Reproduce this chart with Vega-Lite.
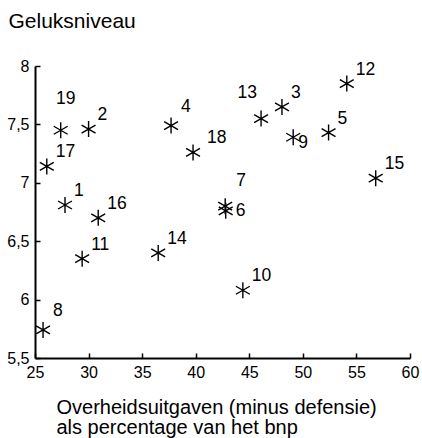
{
  "$schema": "https://vega.github.io/schema/vega-lite/v6.json",
  "width": 375,
  "height": 292,
  "autosize": {"type": "none"},
  "padding": {"left": 35, "top": 66, "right": 12, "bottom": 80},
  "config": {"view": {"stroke": null}, "font": "Liberation Sans", "background": "white"},
  "data": {"values": [
    {"land": "1", "uitgaven": 27.8, "geluk": 6.81},
    {"land": "2", "uitgaven": 30.0, "geluk": 7.46},
    {"land": "3", "uitgaven": 48.05, "geluk": 7.65},
    {"land": "4", "uitgaven": 37.7, "geluk": 7.49},
    {"land": "5", "uitgaven": 52.4, "geluk": 7.43},
    {"land": "6", "uitgaven": 42.8, "geluk": 6.76},
    {"land": "7", "uitgaven": 42.75, "geluk": 6.80},
    {"land": "8", "uitgaven": 25.75, "geluk": 5.74},
    {"land": "9", "uitgaven": 49.1, "geluk": 7.39},
    {"land": "10", "uitgaven": 44.4, "geluk": 6.08},
    {"land": "11", "uitgaven": 29.4, "geluk": 6.35},
    {"land": "12", "uitgaven": 54.1, "geluk": 7.85},
    {"land": "13", "uitgaven": 46.1, "geluk": 7.55},
    {"land": "14", "uitgaven": 36.5, "geluk": 6.40},
    {"land": "15", "uitgaven": 56.8, "geluk": 7.04},
    {"land": "16", "uitgaven": 30.9, "geluk": 6.70},
    {"land": "17", "uitgaven": 26.1, "geluk": 7.14},
    {"land": "18", "uitgaven": 39.75, "geluk": 7.26},
    {"land": "19", "uitgaven": 27.4, "geluk": 7.45}
  ]},
  "encoding": {
    "x": {
      "field": "uitgaven", "type": "quantitative",
      "scale": {"domain": [25, 60], "nice": false, "zero": false},
      "axis": {
        "values": [25, 30, 35, 40, 45, 50, 55, 60],
        "grid": false, "domainColor": "black", "domainWidth": 2,
        "tickColor": "black", "tickSize": -5, "tickWidth": 1.5,
        "labelFontSize": 16, "labelColor": "black", "labelPadding": 11, "labelFlush": false,
        "title": ["Overheidsuitgaven (minus defensie)", "als percentage van het bnp"],
        "titleFontSize": 20, "titleFontWeight": "normal", "titleColor": "black",
        "titleAnchor": "start", "titleAlign": "left", "titleBaseline": "alphabetic",
        "titleX": 21, "titleY": 55, "titleLineHeight": 20
      }
    },
    "y": {
      "field": "geluk", "type": "quantitative",
      "scale": {"domain": [5.5, 8], "nice": false, "zero": false},
      "axis": {
        "values": [5.5, 6, 6.5, 7, 7.5, 8],
        "labelExpr": "replace(toString(datum.value), '.', ',')",
        "grid": false, "domainColor": "black", "domainWidth": 2,
        "tickColor": "black", "tickSize": -5, "tickWidth": 1.5,
        "labelFontSize": 16, "labelColor": "black", "labelPadding": 11, "labelFlush": false,
        "title": "Geluksniveau", "titleFontSize": 21, "titleFontWeight": "normal", "titleColor": "black",
        "titleAngle": 0, "titleAlign": "left", "titleBaseline": "alphabetic",
        "titleX": -27, "titleY": -39
      }
    }
  },
  "layer": [
    {
      "mark": {"type": "point", "shape": "M0,-1L0,1M-0.87,-0.5L0.87,0.5M-0.87,0.5L0.87,-0.5", "filled": false, "stroke": "black", "strokeWidth": 1.4, "size": 256, "opacity": 1}
    },
    {
      "transform": [{"filter": {"field": "land", "oneOf": ["1", "2", "3", "5", "10", "11", "12", "14", "15", "16", "17"]}}],
      "mark": {"type": "text", "align": "left", "baseline": "middle", "dx": 9, "dy": -14, "fontSize": 17.5, "color": "black"},
      "encoding": {"text": {"field": "land"}}
    },
    {
      "transform": [{"filter": {"field": "land", "oneOf": ["4", "8"]}}],
      "mark": {"type": "text", "align": "left", "baseline": "middle", "dx": 10, "dy": -19, "fontSize": 17.5, "color": "black"},
      "encoding": {"text": {"field": "land"}}
    },
    {
      "transform": [{"filter": {"field": "land", "oneOf": ["18"]}}],
      "mark": {"type": "text", "align": "left", "baseline": "middle", "dx": 14, "dy": -14, "fontSize": 17.5, "color": "black"},
      "encoding": {"text": {"field": "land"}}
    },
    {
      "transform": [{"filter": {"field": "land", "oneOf": ["19"]}}],
      "mark": {"type": "text", "align": "center", "baseline": "middle", "dx": 5, "dy": -31, "fontSize": 17.5, "color": "black"},
      "encoding": {"text": {"field": "land"}}
    },
    {
      "transform": [{"filter": {"field": "land", "oneOf": ["13"]}}],
      "mark": {"type": "text", "align": "right", "baseline": "middle", "dx": -4, "dy": -26, "fontSize": 17.5, "color": "black"},
      "encoding": {"text": {"field": "land"}}
    },
    {
      "transform": [{"filter": {"field": "land", "oneOf": ["7"]}}],
      "mark": {"type": "text", "align": "left", "baseline": "middle", "dx": 11, "dy": -25, "fontSize": 17.5, "color": "black"},
      "encoding": {"text": {"field": "land"}}
    },
    {
      "transform": [{"filter": {"field": "land", "oneOf": ["6"]}}],
      "mark": {"type": "text", "align": "left", "baseline": "middle", "dx": 10, "dy": 0, "fontSize": 17.5, "color": "black"},
      "encoding": {"text": {"field": "land"}}
    },
    {
      "transform": [{"filter": {"field": "land", "oneOf": ["9"]}}],
      "mark": {"type": "text", "align": "left", "baseline": "middle", "dx": 5, "dy": 6, "fontSize": 17.5, "color": "black"},
      "encoding": {"text": {"field": "land"}}
    }
  ]
}
